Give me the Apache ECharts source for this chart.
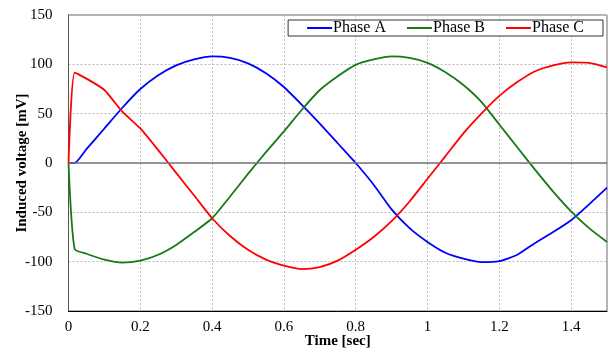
<!DOCTYPE html>
<html lang="en">
<head>
    <meta charset="UTF-8">
    <title>Induced voltage</title>
    <script src="https://cdn.jsdelivr.net/npm/echarts@6/dist/echarts.min.js"></script>
</head>
<body style="margin: 0;">
    <div id="echarts" style="width: 615px; height: 349px;"></div>
    <script>
        // time samples [sec]
        const time = [0, 0.017, 0.05, 0.1, 0.15, 0.2, 0.25, 0.3, 0.35, 0.4, 0.45, 0.5, 0.55, 0.6, 0.65, 0.7, 0.75,
            0.8, 0.85, 0.9, 0.95, 1.0, 1.05, 1.1, 1.15, 1.2, 1.25, 1.3, 1.35, 1.4, 1.45, 1.5];
        // induced voltage [mV]
        const phaseA = [0, 0, 14, 35, 56, 75, 89, 99, 105, 108, 106.5, 101, 91, 77, 59, 40, 20,
            0, -22, -47, -66, -80, -91, -97, -100.5, -99.5, -93, -81, -70, -58, -42, -25];
        const phaseB = [0, -87, -92, -98, -101, -99, -93, -83, -70, -56, -34, -11, 11, 32, 54, 74, 88,
            99.5, 105, 108, 106.5, 101.5, 92, 79, 62, 39, 16, -7, -29, -49, -66, -80];
        const phaseC = [0, 91.6, 85.5, 74, 52, 35, 13, -10, -33, -56, -74, -88, -98, -104, -107.5, -105.5, -99,
            -88, -75, -59, -39, -16, 7, 30, 50, 68, 82, 93, 99, 102, 101.5, 97];
        const seriesNames = ['Phase A', 'Phase B', 'Phase C'];
        const seriesColors = ['#0000ff', '#157a15', '#ff0000'];

        const font = 'Liberation Serif';
        const pairs = arr => time.map((t, i) => [t, arr[i]]);

        const myChart = echarts.init(document.querySelector('#echarts'));
        const option = {
            animation: false,
            grid: {
                left: 68.5, right: 8, top: 15, bottom: 38,
                outerBoundsMode: 'none',
                containLabel: false,
                show: true, borderColor: '#666', borderWidth: 1
            },
            legend: {
                top: 20, right: 12,
                icon: 'rect',
                itemWidth: 25, itemHeight: 2, itemGap: 21,
                padding: [0, 19],
                borderColor: '#333', borderWidth: 1, borderRadius: 0,
                backgroundColor: '#fff',
                textStyle: { fontFamily: font, fontSize: 16, color: '#000', padding: [0, 0, 0, -4] },
                data: seriesNames
            },
            xAxis: {
                type: 'value', min: 0, max: 1.5, interval: 0.2,
                name: 'Time [sec]', nameLocation: 'middle', nameGap: 23,
                nameMoveOverlap: false,
                nameTextStyle: { fontFamily: font, fontSize: 15, fontWeight: 'bold', color: '#000' },
                axisLine: { onZero: false, lineStyle: { color: '#000', width: 1 } },
                axisTick: { show: false },
                axisLabel: { fontFamily: font, fontSize: 15, color: '#000', margin: 9, showMaxLabel: false },
                splitLine: { lineStyle: { color: '#bbb', type: [2, 2] } }
            },
            yAxis: {
                type: 'value', min: -150, max: 150, interval: 50,
                name: 'Induced voltage [mV]', nameLocation: 'middle', nameGap: 39,
                nameMoveOverlap: false,
                nameTextStyle: { fontFamily: font, fontSize: 15, fontWeight: 'bold', color: '#000' },
                axisLine: { show: true, lineStyle: { color: '#555', width: 1 } },
                axisTick: { show: false },
                axisLabel: { fontFamily: font, fontSize: 15, color: '#000', margin: 16 },
                splitLine: { lineStyle: { color: '#bbb', type: [2, 2] } }
            },
            series: [phaseA, phaseB, phaseC].map((arr, i) => ({
                name: seriesNames[i],
                type: 'line',
                data: pairs(arr),
                symbol: 'none',
                smooth: 0.2,
                color: seriesColors[i],
                lineStyle: { width: 1.8 },
                markLine: i === 0 ? {
                    silent: true, symbol: 'none', label: { show: false },
                    lineStyle: { color: '#777', type: 'solid', width: 1.5 },
                    data: [{ yAxis: 0 }]
                } : undefined,
                z: 3
            }))
        };
        myChart.setOption(option);
    </script>
</body>
</html>
